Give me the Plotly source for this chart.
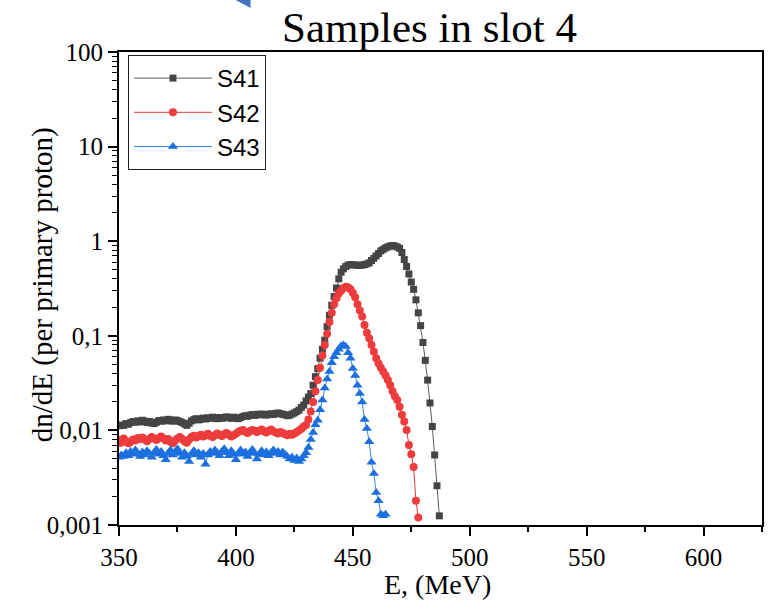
import plotly.graph_objects as go

# ---- data (1 MeV bins) ----
e41_start, e42_start, e43_start = 350, 350, 350
s41 = [0.0112, 0.0114, 0.0113, 0.0118, 0.0116, 0.0121, 0.0124, 0.0122, 0.0126, 0.0123,
       0.0128, 0.0125, 0.0121, 0.0124, 0.0120, 0.0118, 0.0122, 0.0127, 0.0125, 0.0129,
       0.0126, 0.0131, 0.0128, 0.0125, 0.0129, 0.0127, 0.0124, 0.0121, 0.0117, 0.0113,
       0.0119, 0.0126, 0.0130, 0.0133, 0.0129, 0.0131, 0.0135, 0.0132, 0.0136, 0.0134,
       0.0138, 0.0135, 0.0133, 0.0137, 0.0134, 0.0136, 0.0139, 0.0137, 0.0134, 0.0138,
       0.0136, 0.0133, 0.0137, 0.0140, 0.0143, 0.0141, 0.0145, 0.0147, 0.0144, 0.0148,
       0.0146, 0.0149, 0.0147, 0.0145, 0.0148, 0.0150, 0.0147, 0.0151, 0.0153, 0.0150,
       0.0148, 0.0146, 0.0143, 0.0145, 0.0149, 0.0153, 0.0158, 0.0164, 0.0175, 0.0185,
       0.0205, 0.0225, 0.0245, 0.0300, 0.037, 0.045, 0.058, 0.072, 0.090, 0.125,
       0.165, 0.21, 0.26, 0.32, 0.40, 0.47, 0.51, 0.54, 0.56, 0.565,
       0.565, 0.56, 0.555, 0.555, 0.56, 0.565, 0.575, 0.59, 0.625, 0.66,
       0.70, 0.74, 0.79, 0.82, 0.85, 0.87, 0.89, 0.90, 0.89, 0.87,
       0.84, 0.76, 0.64, 0.54, 0.45, 0.37, 0.31, 0.24, 0.175, 0.128,
       0.085, 0.055, 0.034, 0.0195, 0.0110, 0.0055, 0.0026, 0.00125]
s42 = [0.0079, 0.0074, 0.0082, 0.0077, 0.0073, 0.0076, 0.0080, 0.0078, 0.0083, 0.0081,
       0.0084, 0.0080, 0.0077, 0.0081, 0.0085, 0.0082, 0.0079, 0.0083, 0.0086, 0.0082,
       0.0078, 0.0081, 0.0076, 0.0073, 0.0078, 0.0082, 0.0085, 0.0081, 0.0077, 0.0074,
       0.0080, 0.0085, 0.0088, 0.0084, 0.0087, 0.0090, 0.0086, 0.0089, 0.0092, 0.0088,
       0.0085, 0.0089, 0.0093, 0.0090, 0.0087, 0.0091, 0.0094, 0.0090, 0.0086, 0.0089,
       0.0092, 0.0096, 0.0099, 0.0101, 0.0097, 0.0094, 0.0098, 0.0101, 0.0099, 0.0096,
       0.0099, 0.0102, 0.0098, 0.0095, 0.0099, 0.0102, 0.0098, 0.0095, 0.0093, 0.0096,
       0.0094, 0.0091, 0.0089, 0.0092, 0.0090, 0.0093, 0.0096, 0.0100, 0.0104, 0.0110,
       0.0114, 0.0130, 0.0158, 0.0200, 0.026, 0.034, 0.046, 0.062, 0.080, 0.105,
       0.140, 0.175, 0.215, 0.25, 0.28, 0.30, 0.32, 0.33, 0.325, 0.31,
       0.285, 0.255, 0.215, 0.185, 0.160, 0.130, 0.108, 0.094, 0.080, 0.068,
       0.058, 0.051, 0.046, 0.042, 0.038, 0.034, 0.030, 0.026, 0.023, 0.021,
       0.0178, 0.0146, 0.0124, 0.0101, 0.0070, 0.0056, 0.0041, 0.0018, 0.0012]
s43 = [0.0052, 0.0055, 0.0053, 0.0058, 0.0054, 0.0060, 0.0056, 0.0062, 0.0057, 0.0053,
       0.0059, 0.0055, 0.0061, 0.0057, 0.0052, 0.0058, 0.0063, 0.0056, 0.0060, 0.0054,
       0.0049, 0.0057, 0.0062, 0.0055, 0.0059, 0.0064, 0.0057, 0.0052, 0.0058, 0.0054,
       0.0047, 0.0056, 0.0061, 0.0055, 0.0058, 0.0052, 0.0057, 0.0044, 0.0055, 0.0060,
       0.0057, 0.0062, 0.0058, 0.0054, 0.0060, 0.0064, 0.0058, 0.0054, 0.0061, 0.0056,
       0.0049, 0.0057, 0.0062, 0.0056, 0.0059, 0.0053, 0.0058, 0.0063, 0.0057, 0.0050,
       0.0056, 0.0061, 0.0055, 0.0059, 0.0054, 0.0058, 0.0062, 0.0057, 0.0060, 0.0055,
       0.0059, 0.0056, 0.0053, 0.0050, 0.0052, 0.0048, 0.0051, 0.0047, 0.0050, 0.0054,
       0.0058, 0.0066, 0.0080, 0.0095, 0.0115, 0.0128, 0.0165, 0.021, 0.028, 0.035,
       0.042, 0.052, 0.060, 0.066, 0.072, 0.078, 0.080, 0.077, 0.066, 0.058,
       0.045, 0.038, 0.030, 0.0245, 0.020, 0.0130, 0.0105, 0.0076, 0.0046, 0.0035,
       0.0022, 0.0018, 0.0013, 0.00125, 0.0013]
e41 = [e41_start + i for i in range(len(s41))]
e42 = [e42_start + i for i in range(len(s42))]
e43 = [e43_start + i for i in range(len(s43))]

series_names = ["S41", "S42", "S43"]
x_ticks = [350, 400, 450, 500, 550, 600]
y_tickvals = [0.001, 0.01, 0.1, 1, 10, 100]
y_ticktext = ["0,001", "0,01", "0,1", "1", "10", "100"]
title_text = "Samples in slot 4"
x_title = "E, (MeV)"
y_title = "dn/dE (per primary proton)"

# ---- figure ----
SERIF = "Liberation Serif, Times New Roman, serif"
SANS = "Liberation Sans, Arial, sans-serif"

fig = go.Figure()
fig.add_trace(go.Scatter(x=e41, y=s41, name=series_names[0], mode="lines+markers",
                         line=dict(color="#5e5e5e", width=1),
                         marker=dict(symbol="square", size=7, color="#454545")))
fig.add_trace(go.Scatter(x=e42, y=s42, name=series_names[1], mode="lines+markers",
                         line=dict(color="#e5393a", width=1),
                         marker=dict(symbol="circle", size=8, color="#ee3b3c")))
fig.add_trace(go.Scatter(x=e43, y=s43, name=series_names[2], mode="lines+markers",
                         line=dict(color="#3a86ea", width=1),
                         marker=dict(symbol="triangle-up", size=9, color="#1c6fdf")))

minor_y = [m * 10.0 ** d for d in range(-3, 2) for m in range(2, 10)]

L, R, T, B = 119, 5, 52, 88
W, H = 769, 613
pw, ph = W - L - R, H - T - B

def px2paper(px, py):
    return (px - L) / pw, (H - B - py) / ph

fig.update_layout(
    width=W, height=H,
    margin=dict(l=L, r=R, t=T, b=B),
    paper_bgcolor="white", plot_bgcolor="white",
    showlegend=True,
    legend=dict(x=px2paper(128, 0)[0], y=px2paper(0, 55)[1], xanchor="left", yanchor="top",
                bordercolor="#222", borderwidth=1, bgcolor="white",
                font=dict(family=SANS, size=24, color="black"),
                itemwidth=78, tracegroupgap=0),
    xaxis=dict(range=[350, 625], tickvals=x_ticks, ticks="outside", ticklen=9, tickwidth=2,
               tickcolor="black", showline=True, linecolor="black", linewidth=2, mirror=True,
               showgrid=False, zeroline=False,
               tickfont=dict(family=SERIF, size=25, color="black"),
               minor=dict(tickvals=[375, 425, 475, 525, 575, 625], ticks="outside", ticklen=5,
                          tickwidth=2, tickcolor="black", showgrid=False)),
    yaxis=dict(type="log", range=[-3, 2], tickvals=y_tickvals, ticktext=y_ticktext,
               ticks="outside", ticklen=9, tickwidth=2, tickcolor="black",
               showline=True, linecolor="black", linewidth=2, mirror=True,
               showgrid=False, zeroline=False,
               tickfont=dict(family=SERIF, size=25, color="black"),
               minor=dict(tickvals=minor_y, ticks="outside", ticklen=5, tickwidth=1,
                          tickcolor="black", showgrid=False)),
)

tx, ty = px2paper(430, 27)
ax_, ay_ = px2paper(438, 584)
yx, yy = px2paper(42, 285)
fig.add_annotation(text=title_text, x=tx, y=ty, xref="paper", yref="paper",
                   xanchor="center", yanchor="middle", showarrow=False,
                   font=dict(family=SERIF, size=43, color="black"))
fig.add_annotation(text=x_title, x=ax_, y=ay_, xref="paper", yref="paper",
                   xanchor="center", yanchor="middle", showarrow=False,
                   font=dict(family=SERIF, size=28, color="black"))
fig.add_annotation(text=y_title, x=yx, y=yy, xref="paper", yref="paper",
                   xanchor="center", yanchor="middle", showarrow=False, textangle=-90,
                   font=dict(family=SERIF, size=29, color="black"))

# decorative arrowhead fragment at top (from the source slide)
p1 = px2paper(236, 0); p2 = px2paper(251, 0); p3 = px2paper(251, 8)
fig.add_shape(type="path", xref="paper", yref="paper",
              path=f"M {p1[0]} {p1[1]} L {p2[0]} {p2[1]} L {p3[0]} {p3[1]} Z",
              fillcolor="#4472c4", line=dict(width=0))

fig.write_html("out.html")
